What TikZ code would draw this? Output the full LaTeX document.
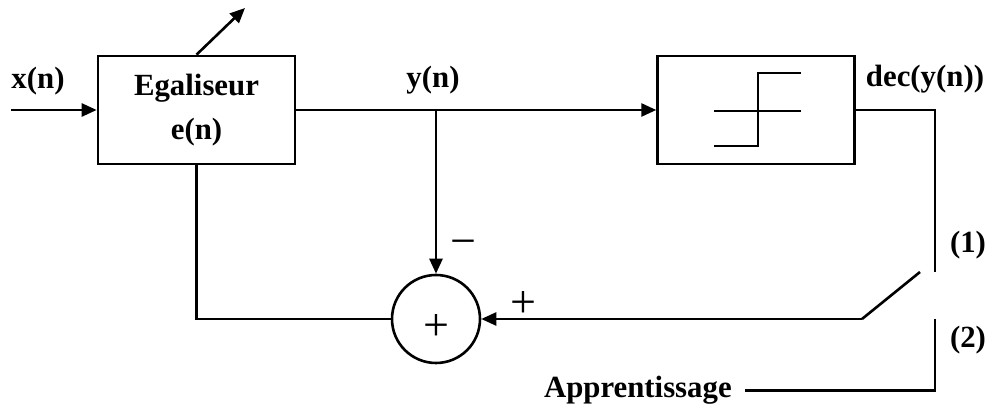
\documentclass[tikz,border=0pt]{standalone}
\usepackage{fontspec}
\setmainfont{Liberation Serif}
\usetikzlibrary{arrows.meta,positioning}

\begin{document}
\begin{tikzpicture}[
  x=0.5pt, y=-0.5pt,
  >={Triangle[length=7.5pt,width=6.5pt]},
  line width=1.3pt,
  block/.style={rectangle, draw, minimum width=98.5pt, minimum height=54pt, align=center, font=\fontsize{15.4}{22}\selectfont\bfseries},
  sumnode/.style={circle, draw, minimum size=44pt, inner sep=0pt, font=\fontsize{23}{23}\selectfont},
  lbl/.style={inner sep=0pt, font=\fontsize{15.4}{18}\selectfont\bfseries},
  sign/.style={inner sep=0pt, font=\fontsize{23}{23}\selectfont},
  flow/.style={->, line width=1.3pt}
]
  \useasboundingbox (0,0) rectangle (987,405);
  \node[block] (egal) at (196.5,110) {Egaliseur\\e(n)};
  \node[block, right=180pt of egal] (dec) {};
  \node[sumnode] (sum) at (436,319) {\raisebox{-11pt}[0pt][0pt]{+}};
  \node[lbl] (xlab) at (38,81) {x(n)};
  \node[lbl] (ylab) at (433,80) {y(n)};
  \node[lbl] (declab) at (925,79) {dec(y(n))};
  \node[lbl] (one) at (968,245) {(1)};
  \node[lbl] (two) at (968,340) {(2)};
  \node[lbl, inner xsep=6pt, anchor=base east] (appr) at (745,398) {Apprentissage};
  \node[sign] (minus) at (463,248) {−};
  \node[sign] (plus) at (523,305) {+};
  % free ends and switch contacts
  \coordinate (src) at (11,110);
  \coordinate (adapt) at (245,8);
  \coordinate (jn) at (egal.east -| sum.north);
  \coordinate (sw1) at (935,272);
  \coordinate (blade) at (920,272);
  \coordinate (pivot) at (862,319);
  \coordinate (sw2) at (935,319);
  \draw[flow] (src) -- (egal.west);
  \draw[flow] (egal.north) -- (adapt);
  \draw[flow] (egal.east) -- (dec.west);
  \draw[flow] (jn) -- (sum.north);
  \draw (egal.south) |- (sum.west);
  \draw (dec.east) -| (sw1);
  \draw (blade) -- (pivot);
  \draw[flow] (pivot) -- (sum.east);
  \draw (sw2) |- (appr);
  % threshold symbol
  \draw ([shift={(-42,1)}]dec.center) -- ++(87,0);
  \draw ([shift={(-42,36)}]dec.center) -| ([shift={(2,-37)}]dec.center) -- ++(43,0);
\end{tikzpicture}
\end{document}
